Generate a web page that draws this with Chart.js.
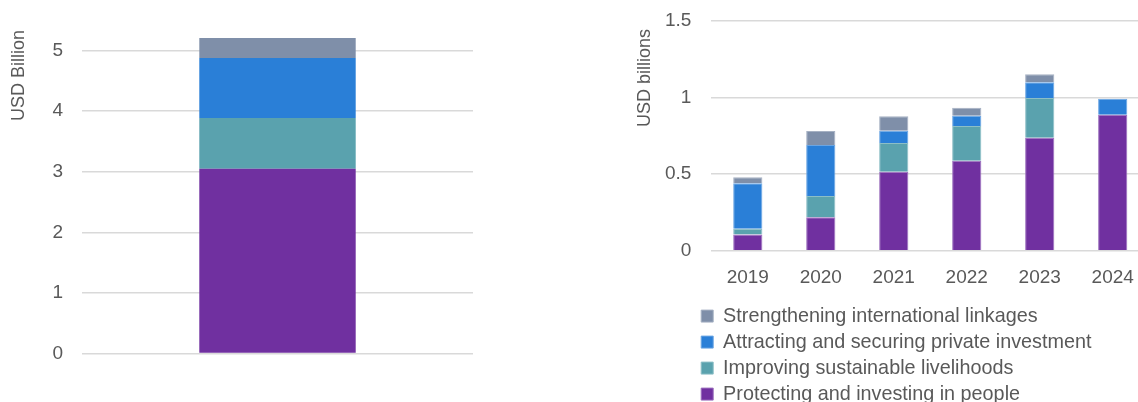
<!DOCTYPE html>
<html>
<head>
<meta charset="utf-8">
<script src="https://cdn.jsdelivr.net/npm/chart.js@4"></script>
<style>
    body { margin: 0; width: 1138px; height: 402px; overflow: hidden; position: relative; background: #fff; }
    #contIzq { position: absolute; left: 0; top: 0; width: 500px; height: 402px; }
    #contDer { position: absolute; left: 600px; top: 0; width: 550px; height: 414px; }
</style>
</head>
<body>
<div id="contIzq"><canvas id="graficoTotal"></canvas></div>
<div id="contDer"><canvas id="graficoAnual"></canvas></div>
<script>
// Datos
const series = [
    'Protecting and investing in people',
    'Improving sustainable livelihoods',
    'Attracting and securing private investment',
    'Strengthening international linkages'
];
const colores = ['#7030A0', '#5AA2AE', '#2A7FD7', '#7F8FA9'];
const bordes = ['#9b6ebd', '#8cbec6', '#6aa5e3', '#a6b1c3'];

// Grafico de la izquierda: acumulado (una sola barra)
const categoriaTotal = [''];
const totalPersonas = [3.05];
const totalMedios = [0.84];
const totalInversion = [0.99];
const totalVinculos = [0.33];

// Grafico de la derecha: por anio
const anios = ['2019', '2020', '2021', '2022', '2023', '2024'];
const personas = [0.107, 0.218, 0.515, 0.587, 0.737, 0.887];
const medios = [0.037, 0.139, 0.188, 0.226, 0.259, null];
const inversion = [0.296, 0.333, 0.080, 0.068, 0.102, 0.105];
const vinculos = [0.039, 0.091, 0.094, 0.052, 0.053, null];

const fuente = "'Liberation Sans', Arial, sans-serif";
const gris = '#595959';

// Titulo de eje arriba, como en Excel
const tituloEje = {
    id: 'tituloEje',
    afterDraw(chart, args, opts) {
        const ctx = chart.ctx;
        ctx.save();
        ctx.translate(opts.x, opts.y);
        ctx.rotate(-Math.PI / 2);
        ctx.font = opts.tamano + 'px ' + fuente;
        ctx.fillStyle = gris;
        ctx.textAlign = 'right';
        ctx.textBaseline = 'middle';
        ctx.fillText(opts.texto, 0, 0);
        ctx.restore();
    }
};

// Mueve la leyenda a la izquierda, bajo el eje
const moverLeyenda = {
    id: 'moverLeyenda',
    afterLayout(chart, args, opts) {
        const leyenda = chart.legend;
        if (!leyenda) return;
        leyenda.left = opts.izquierda;
        leyenda.width = leyenda.right - leyenda.left;
    }
};

function crearGraficoTotal() {
    const ctx = document.getElementById('graficoTotal').getContext('2d');
    const valores = [totalPersonas, totalMedios, totalInversion, totalVinculos];

    new Chart(ctx, {
        type: 'bar',
        data: {
            labels: categoriaTotal,
            datasets: series.map((nombre, i) => ({
                label: nombre,
                data: valores[i],
                backgroundColor: colores[i],
                borderWidth: 0,
                barPercentage: 1,
                categoryPercentage: 0.4
            }))
        },
        options: {
            responsive: true,
            maintainAspectRatio: false,
            animation: false,
            layout: { padding: { left: 0, top: 32.5, right: 27, bottom: 48.5 } },
            plugins: {
                legend: { display: false },
                tooltip: { enabled: false },
                tituloEje: { texto: 'USD Billion', x: 19, y: 30, tamano: 18 }
            },
            scales: {
                x: { stacked: true, display: false },
                y: {
                    stacked: true,
                    min: 0,
                    max: 5.3,
                    afterFit: function(escala) { escala.width = 82; },
                    border: { display: false },
                    grid: { color: '#d9d9d9', lineWidth: 1.5, drawTicks: false },
                    ticks: {
                        stepSize: 1,
                        includeBounds: false,
                        padding: 19,
                        color: gris,
                        font: { family: fuente, size: 19 }
                    }
                }
            }
        },
        plugins: [tituloEje]
    });
}

function crearGraficoAnual() {
    const ctx = document.getElementById('graficoAnual').getContext('2d');
    const valores = [personas, medios, inversion, vinculos];

    new Chart(ctx, {
        type: 'bar',
        data: {
            labels: anios,
            datasets: series.map((nombre, i) => ({
                label: nombre,
                data: valores[i],
                backgroundColor: colores[i],
                borderColor: bordes[i],
                borderWidth: 1,
                barPercentage: 1,
                categoryPercentage: 0.4
            }))
        },
        options: {
            responsive: true,
            maintainAspectRatio: false,
            animation: false,
            layout: { padding: { left: 0, top: 20.7, right: 0.8, bottom: 0 } },
            plugins: {
                legend: {
                    position: 'bottom',
                    align: 'start',
                    reverse: true,
                    labels: {
                        boxWidth: 12,
                        boxHeight: 12,
                        padding: 6.2,
                        color: gris,
                        font: { family: fuente, size: 19.8 }
                    }
                },
                tooltip: { enabled: false },
                tituloEje: { texto: 'USD billions', x: 45, y: 29, tamano: 18 },
                moverLeyenda: { izquierda: 95 }
            },
            scales: {
                x: {
                    stacked: true,
                    afterFit: function(escala) { escala.height = 49.2; },
                    border: { display: false },
                    grid: { display: false, drawTicks: false },
                    ticks: {
                        padding: 16,
                        color: gris,
                        font: { family: fuente, size: 19 }
                    }
                },
                y: {
                    stacked: true,
                    min: 0,
                    max: 1.5,
                    afterFit: function(escala) { escala.width = 111.3; },
                    border: { display: false },
                    grid: {
                        color: '#d9d9d9',
                        lineWidth: 1.5,
                        drawTicks: true,
                        tickLength: 20,
                        tickColor: 'rgba(0,0,0,0)'
                    },
                    ticks: {
                        stepSize: 0.5,
                        padding: 0,
                        color: gris,
                        font: { family: fuente, size: 19 },
                        callback: function(valor) { return String(valor); }
                    }
                }
            }
        },
        plugins: [tituloEje, moverLeyenda]
    });
}

crearGraficoTotal();
crearGraficoAnual();
</script>
</body>
</html>
